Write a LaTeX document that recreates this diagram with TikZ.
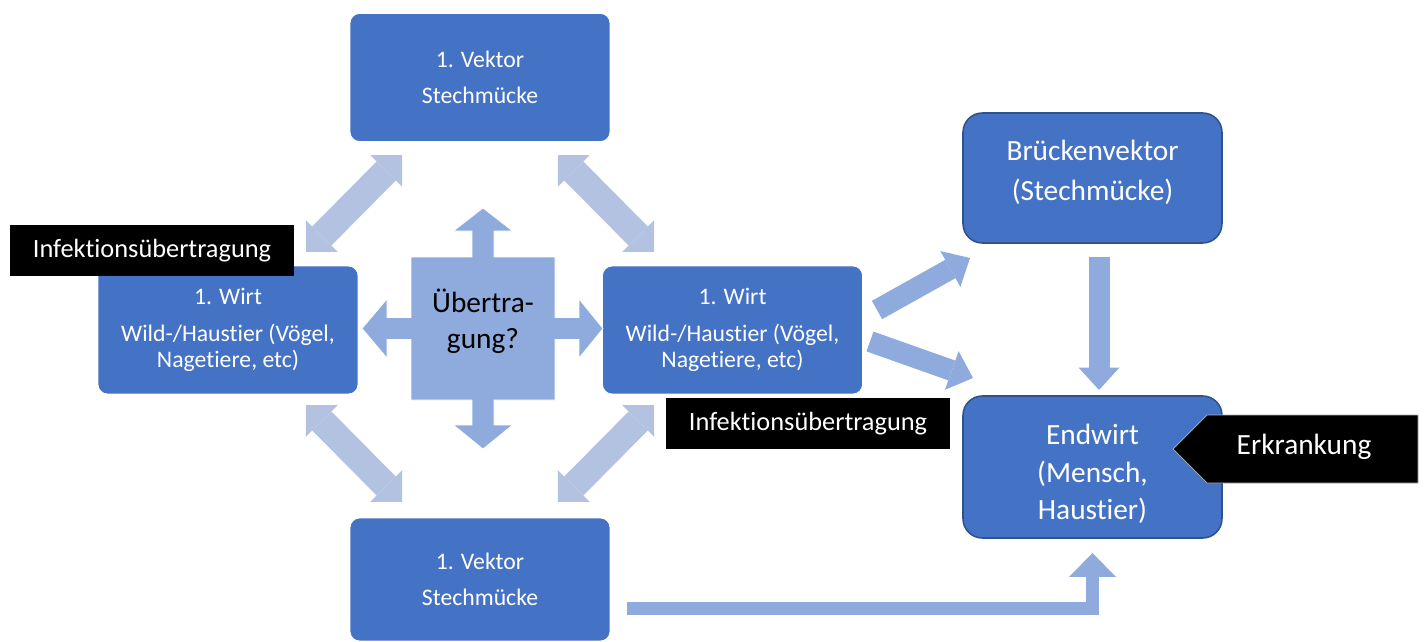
\documentclass[tikz,border=0pt]{standalone}
\usepackage{fontspec}
\setmainfont{Carlito}[Ligatures={NoCommon,NoContextual}]
\usetikzlibrary{arrows.meta}
\pgfdeclarelayer{edgelayer}
\pgfdeclarelayer{nodelayer}
\pgfsetlayers{edgelayer,nodelayer,main}
\definecolor{boxblue}{HTML}{4472C4}
\definecolor{boxedge}{HTML}{2F528F}
\definecolor{arrowblue}{HTML}{8FAADC}
\definecolor{paleblue}{HTML}{B4C2E1}
\tikzset{font=\fontsize{13.5}{15}\selectfont}
\tikzstyle{none}=[inner sep=0pt]
\tikzstyle{wbox}=[rectangle, rounded corners=5.5pt, fill=boxblue, draw=white, line width=0.4pt, text=white, align=center, minimum width=5.2cm, minimum height=2.56cm, inner sep=0pt]
\tikzstyle{ebox}=[wbox, draw=boxedge, line width=0.9pt, rounded corners=11pt, minimum width=5.18cm]
\tikzstyle{etext}=[inner sep=0pt, text=white, align=center, font=\fontsize{16.7}{22}\selectfont]
\tikzstyle{blackbox}=[fill=black, text=white, inner sep=0pt, minimum width=5.7cm, minimum height=1.02cm, font=\fontsize{15}{18}\selectfont]
\tikzstyle{twoway}=[line width=5.4mm, paleblue, {Triangle[width=9mm,length=4.5mm,line width=0pt]}-{Triangle[width=9mm,length=4.5mm,line width=0pt]}]
\tikzstyle{oneway}=[line width=4.2mm, arrowblue, -{Triangle[width=8.2mm,length=4.5mm,line width=0pt]}]
\tikzstyle{bent}=[line width=2.7mm, arrowblue, line join=miter, -{Triangle[width=9.4mm,length=4.8mm,line width=0pt]}]

\begin{document}
\begin{tikzpicture}[x=0.02cm, y=-0.02cm]
	\useasboundingbox (0,0) rectangle (1424,642);
	\begin{pgfonlayer}{nodelayer}
		\node [style=wbox] (0) at (480, 77.5) {1. Vektor\\[5.4pt]Stechmücke};
		\node [style=wbox] (1) at (228, 330) {1. Wirt\\[6pt]Wild-/Haustier (Vögel,\\Nagetiere, etc)};
		\node [style=wbox] (2) at (732.5, 330) {1. Wirt\\[6pt]Wild-/Haustier (Vögel,\\Nagetiere, etc)};
		\node [style=wbox, minimum height=2.46cm] (3) at (480, 579.5) {1. Vektor\\[5.4pt]Stechmücke};
		\node [style=ebox, minimum height=2.6cm] (4) at (1092.5, 178) {};
		\node [style=etext, font=\fontsize{16.7}{22.7}\selectfont] (4a) at (1092.5, 172) {Brückenvektor\\(Stechmücke)};
		\node [style=ebox, minimum height=2.84cm] (5) at (1092.5, 467) {};
		\node [style=etext, font=\fontsize{16.7}{21.5}\selectfont] (5a) at (1092.5, 474) {Endwirt\\(Mensch,\\Haustier)};
		% Übertragung cross
		\fill [arrowblue, draw=white, line width=0.4pt]
			(483,208) -- (512.5,231) -- (494,231) -- (494,257) -- (555,257)
			-- (555,317.5) -- (579,317.5) -- (579,299) -- (603,328.5) -- (579,358) -- (579,339.5) -- (555,339.5)
			-- (555,400) -- (494,400) -- (494,425) -- (512.5,425) -- (483,449) -- (453.5,425) -- (472,425) -- (472,400)
			-- (411,400) -- (411,339.5) -- (387,339.5) -- (387,358) -- (362,328.5) -- (387,299) -- (387,317.5) -- (411,317.5)
			-- (411,257) -- (472,257) -- (472,231) -- (453.5,231) -- cycle;
		\node [style=none, align=center, font=\fontsize{16.7}{20.4}\selectfont] (6) at (483, 321) {Übertra-\\gung?};
		\node [style=none] (10) at (306, 252) {};
		\node [style=none] (11) at (402, 155) {};
		\node [style=none] (12) at (558, 155) {};
		\node [style=none] (13) at (654, 252) {};
		\node [style=none] (14) at (306, 405) {};
		\node [style=none] (15) at (402, 502) {};
		\node [style=none] (16) at (654, 405) {};
		\node [style=none] (17) at (558, 502) {};
		\node [style=none] (18) at (877, 310) {};
		\node [style=none] (19) at (970, 258) {};
		\node [style=none] (20) at (870, 341.5) {};
		\node [style=none] (21) at (973, 378) {};
		\node [style=none] (22) at (1099, 257) {};
		\node [style=none] (23) at (1099, 390) {};
		\node [style=none] (24) at (627, 608.5) {};
		\node [style=none] (25) at (1092.5, 553) {};
	\end{pgfonlayer}
	\begin{pgfonlayer}{edgelayer}
		\draw [style=twoway] (10.center) to (11.center);
		\draw [style=twoway] (12.center) to (13.center);
		\draw [style=twoway] (14.center) to (15.center);
		\draw [style=twoway] (16.center) to (17.center);
		\draw [style=oneway] (18.center) to (19.center);
		\draw [style=oneway] (20.center) to (21.center);
		\draw [style=oneway] (22.center) to (23.center);
		\draw [style=bent] (24.center) -| (25.center);
	\end{pgfonlayer}
	% labels on top
	\node [style=blackbox] (7) at (152, 250.5) {Infektionsübertragung};
	\node [style=blackbox] (8) at (808, 423.5) {Infektionsübertragung};
	\fill [black, draw=gray!60, line width=0.4pt] (1173,449) -- (1207,415) -- (1418,415) -- (1418,483) -- (1207,483) -- cycle;
	\node [style=none, text=white, font=\fontsize{16.7}{19}\selectfont] (9) at (1304, 447) {Erkrankung};
\end{tikzpicture}
\end{document}
